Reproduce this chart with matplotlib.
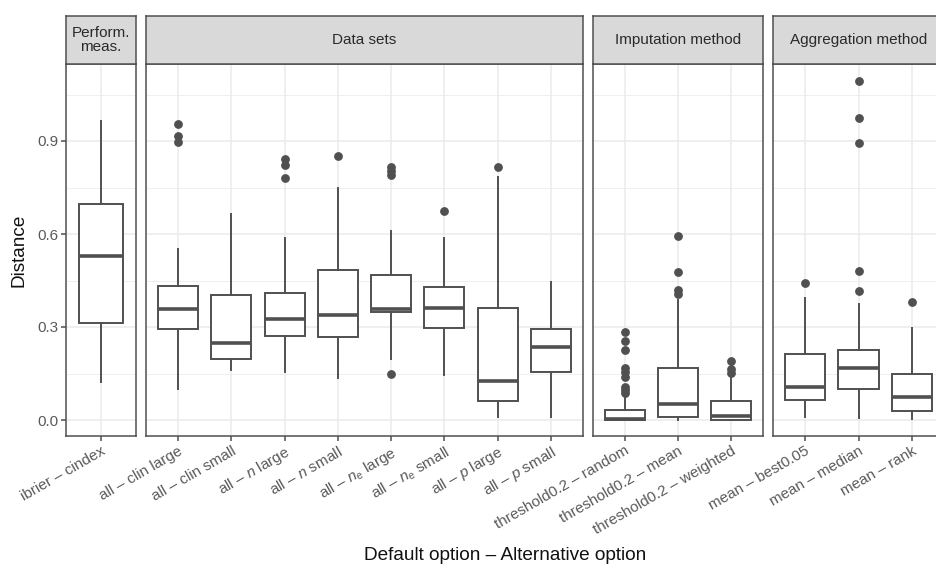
import matplotlib
matplotlib.use('Agg')
import matplotlib.pyplot as plt

plt.rcParams['font.family'] = ['Liberation Sans', 'DejaVu Sans']
plt.rcParams['mathtext.fontset'] = 'custom'
plt.rcParams['mathtext.rm'] = 'Liberation Sans'
plt.rcParams['mathtext.it'] = 'Liberation Sans:italic'

# Facets and their categories
groups = ['Perform.\nmeas.', 'Data sets', 'Imputation method', 'Aggregation method']

labels = [
    ['ibrier – cindex'],
    ['all – clin large', 'all – clin small', r'all – $n$ large', r'all – $n$ small',
     r'all – $n_{\mathrm{e}}$ large', r'all – $n_{\mathrm{e}}$ small',
     r'all – $p$ large', r'all – $p$ small'],
    ['threshold0.2 – random', 'threshold0.2 – mean', 'threshold0.2 – weighted'],
    ['mean – best0.05', 'mean – median', 'mean – rank'],
]

# Box summaries per facet
whisk_lo = [
    [0.123],
    [0.100, 0.161, 0.156, 0.137, 0.197, 0.144, 0.011, 0.011],
    [0.000, 0.000, 0.000],
    [0.011, 0.007, 0.004],
]
q1 = [
    [0.312],
    [0.295, 0.197, 0.272, 0.268, 0.349, 0.296, 0.062, 0.154],
    [0.000, 0.011, 0.000],
    [0.066, 0.100, 0.030],
]
med = [
    [0.528],
    [0.357, 0.250, 0.326, 0.340, 0.359, 0.362, 0.125, 0.235],
    [0.004, 0.052, 0.013],
    [0.108, 0.169, 0.073],
]
q3 = [
    [0.697],
    [0.433, 0.404, 0.409, 0.485, 0.467, 0.428, 0.360, 0.295],
    [0.033, 0.168, 0.060],
    [0.214, 0.226, 0.149],
]
whisk_hi = [
    [0.966],
    [0.551, 0.665, 0.587, 0.747, 0.610, 0.588, 0.785, 0.445],
    [0.070, 0.387, 0.140],
    [0.394, 0.373, 0.296],
]
outliers = [
    [[]],
    [[0.954, 0.916, 0.898], [], [0.841, 0.823, 0.782], [0.851],
     [0.817, 0.804, 0.790, 0.147], [0.674], [0.817], []],
    [[0.283, 0.254, 0.225, 0.167, 0.156, 0.138, 0.108, 0.097, 0.088],
     [0.595, 0.476, 0.419, 0.405],
     [0.190, 0.165, 0.151]],
    [[0.441], [1.094, 0.973, 0.892, 0.482, 0.417], [0.382]],
]

W, H = 936, 568
panel_x = [(66, 136), (146, 583), (593, 763), (773, 944)]
top, bottom, strip_top = 64, 436, 16
ylo, yhi = (420 - bottom) / 310, (420 - top) / 310

dark = '#505050'
lw = 1.4

fig = plt.figure(figsize=(W / 100, H / 100), dpi=100)

for i, (x0, x1) in enumerate(panel_x):
    ax = fig.add_axes([x0 / W, 1 - bottom / H, (x1 - x0) / W, (bottom - top) / H])
    n = len(labels[i])
    stats = [dict(med=med[i][j], q1=q1[i][j], q3=q3[i][j],
                  whislo=whisk_lo[i][j], whishi=whisk_hi[i][j],
                  fliers=outliers[i][j]) for j in range(n)]
    ax.bxp(stats, positions=list(range(n)), widths=0.75, patch_artist=True,
           showcaps=False,
           boxprops=dict(facecolor='white', edgecolor=dark, linewidth=lw),
           whiskerprops=dict(color=dark, linewidth=lw),
           medianprops=dict(color=dark, linewidth=2.6),
           flierprops=dict(marker='o', markerfacecolor=dark, markeredgecolor=dark,
                           markersize=5.3))
    ax.set_xlim(-0.6, n - 0.4)
    ax.set_ylim(ylo, yhi)
    ax.set_yticks([0.0, 0.3, 0.6, 0.9])
    ax.set_yticklabels(['0.0', '0.3', '0.6', '0.9'])
    ax.set_yticks([0.15, 0.45, 0.75, 1.05], minor=True)
    ax.set_xticks(list(range(n)))
    ax.set_xticklabels(labels[i], rotation=30, ha='right', va='top',
                       rotation_mode='anchor')
    ax.grid(which='major', color='#EBEBEB', linewidth=1.1)
    ax.grid(which='minor', axis='y', color='#EBEBEB', linewidth=0.55)
    ax.set_axisbelow(True)
    ax.tick_params(which='major', length=3.6, width=1.1, color=dark,
                   labelcolor='#5A5A5A', labelsize=11, pad=2)
    ax.tick_params(which='minor', length=0)
    if i > 0:
        ax.tick_params(axis='y', left=False, labelleft=False)
    for s in ax.spines.values():
        s.set_color(dark)
        s.set_linewidth(1.1)

    # facet strip
    sax = fig.add_axes([x0 / W, 1 - top / H, (x1 - x0) / W, (top - strip_top) / H])
    sax.set_facecolor('#D9D9D9')
    sax.set_xticks([])
    sax.set_yticks([])
    for s in sax.spines.values():
        s.set_color(dark)
        s.set_linewidth(1.1)
    sax.text(0.5, 0.5, groups[i], ha='center', va='center', fontsize=11,
             color='#2A2A2A', linespacing=1.0, transform=sax.transAxes)

fig.text(19 / W, 1 - 250 / H, 'Distance', rotation=90, ha='center', va='center',
         fontsize=13.7, color='#111111')
fig.text(505 / W, 1 - 556 / H, 'Default option – Alternative option',
         ha='center', va='center', fontsize=13.7, color='#111111')

fig.savefig('out.png', dpi=100)
